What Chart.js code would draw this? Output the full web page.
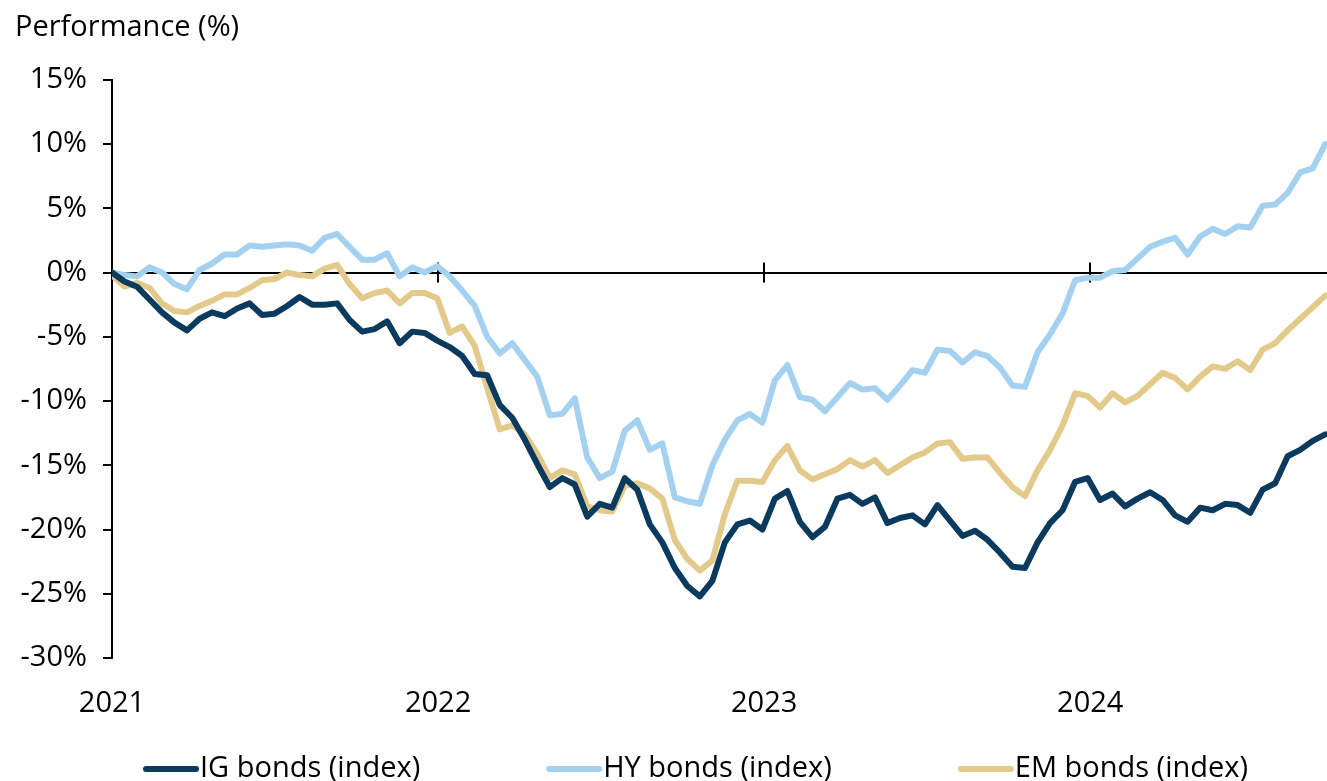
<!DOCTYPE html>
<html>
<head>
<meta charset="utf-8">
<title>Bond performance</title>
<script src="https://cdn.jsdelivr.net/npm/chart.js@4/dist/chart.umd.min.js"></script>
<style>
  html, body { margin: 0; padding: 0; background: #fff; overflow: hidden; }
  canvas { display: block; }
</style>
</head>
<body>
<canvas id="perf" width="1327" height="781"></canvas>
<script>
// cumulative performance since start of 2021, one reading every two weeks (%)
const stepDays = 14;
const igBonds = [
  0, -0.7, -1.1, -2.1, -3.1, -3.9, -4.5, -3.6, -3.1, -3.4,
  -2.8, -2.4, -3.3, -3.2, -2.6, -1.9, -2.5, -2.5, -2.4, -3.7,
  -4.6, -4.4, -3.8, -5.5, -4.6, -4.7, -5.3, -5.8, -6.5, -7.9,
  -8.0, -10.3, -11.3, -13.0, -14.9, -16.7, -16.0, -16.5, -19.0, -18.0,
  -18.3, -16.0, -16.9, -19.6, -21.0, -23.0, -24.4, -25.2, -24.0, -21.0,
  -19.6, -19.3, -20.0, -17.6, -17.0, -19.4, -20.6, -19.8, -17.6, -17.3,
  -18.0, -17.5, -19.5, -19.1, -18.9, -19.6, -18.1, -19.3, -20.5, -20.1,
  -20.8, -21.8, -22.9, -23.0, -21.0, -19.5, -18.5, -16.3, -16.0, -17.7,
  -17.2, -18.2, -17.6, -17.1, -17.7, -18.9, -19.4, -18.3, -18.5, -18.0,
  -18.1, -18.7, -16.9, -16.4, -14.3, -13.8, -13.1, -12.6
];
const hyBonds = [
  0, -0.2, -0.3, 0.4, 0, -0.9, -1.3, 0.2, 0.7, 1.4,
  1.4, 2.1, 2.0, 2.1, 2.2, 2.1, 1.7, 2.7, 3.0, 2.0,
  1.0, 1.0, 1.5, -0.3, 0.4, 0, 0.5, -0.3, -1.4, -2.6,
  -5.0, -6.3, -5.5, -6.8, -8.1, -11.1, -11.0, -9.8, -14.4, -16.0,
  -15.5, -12.3, -11.5, -13.8, -13.3, -17.5, -17.8, -18.0, -15.0, -13.0,
  -11.5, -11.0, -11.7, -8.4, -7.2, -9.7, -9.9, -10.8, -9.7, -8.6,
  -9.1, -9.0, -9.9, -8.8, -7.6, -7.8, -6.0, -6.1, -7.0, -6.2,
  -6.5, -7.4, -8.8, -8.9, -6.2, -4.8, -3.2, -0.6, -0.4, -0.4,
  0.1, 0.2, 1.1, 2.0, 2.4, 2.7, 1.4, 2.8, 3.4, 3.0,
  3.6, 3.5, 5.2, 5.3, 6.2, 7.8, 8.1, 10.0
];
const emBonds = [
  -0.2, -1.1, -0.8, -1.2, -2.4, -3.0, -3.1, -2.6, -2.2, -1.7,
  -1.7, -1.2, -0.6, -0.5, 0, -0.2, -0.3, 0.3, 0.6, -0.9,
  -2.0, -1.6, -1.4, -2.4, -1.6, -1.6, -2.0, -4.7, -4.2, -5.7,
  -9.0, -12.2, -11.9, -12.6, -14.1, -16.0, -15.4, -15.7, -18.2, -18.5,
  -18.6, -16.6, -16.4, -16.8, -17.6, -20.8, -22.3, -23.2, -22.4, -18.8,
  -16.2, -16.2, -16.3, -14.6, -13.5, -15.4, -16.1, -15.7, -15.3, -14.6,
  -15.1, -14.6, -15.6, -15.0, -14.4, -14.0, -13.3, -13.2, -14.5, -14.4,
  -14.4, -15.6, -16.7, -17.4, -15.4, -13.8, -11.9, -9.4, -9.6, -10.5,
  -9.4, -10.1, -9.6, -8.7, -7.8, -8.2, -9.1, -8.1, -7.3, -7.5,
  -6.9, -7.6, -6.0, -5.5, -4.5, -3.6, -2.7, -1.8
];

const yearLabels = ['2021', '2022', '2023', '2024'];
const yearStartDays = [0, 365, 730, 1095];
const lastDay = 1360;

const seriesNames = ['IG bonds (index)', 'HY bonds (index)', 'EM bonds (index)'];
const seriesColors = ['#0b3a5f', '#a5d1f0', '#e3ca8a'];

const FONT = '"Open Sans", "Noto Sans", sans-serif';
const FONT_SIZE = 29;

function toPoints(values) {
  return values.map((v, i) => ({ x: i * stepDays, y: v }));
}

// little year ticks sitting on the zero line
const zeroLineTicks = {
  id: 'zeroLineTicks',
  beforeDatasetsDraw(chart) {
    const { ctx, scales: { x, y } } = chart;
    const y0 = y.getPixelForValue(0);
    ctx.save();
    ctx.strokeStyle = '#000';
    ctx.lineWidth = 2;
    yearStartDays.slice(1).forEach(d => {
      const px = Math.round(x.getPixelForValue(d));
      ctx.beginPath();
      ctx.moveTo(px, y0 - 10);
      ctx.lineTo(px, y0 + 10);
      ctx.stroke();
    });
    ctx.restore();
  }
};

// legend row along the bottom edge
const bottomLegend = {
  id: 'bottomLegend',
  afterDraw(chart) {
    const { ctx, chartArea } = chart;
    const cy = 769;
    const gap = 126;
    let px = chartArea.left + 31;
    ctx.save();
    ctx.font = FONT_SIZE + 'px ' + FONT;
    ctx.textBaseline = 'middle';
    ctx.fillStyle = '#000';
    chart.data.datasets.forEach(ds => {
      ctx.strokeStyle = ds.borderColor;
      ctx.lineWidth = 6;
      ctx.lineCap = 'round';
      ctx.beginPath();
      ctx.moveTo(px + 3, cy);
      ctx.lineTo(px + 53, cy);
      ctx.stroke();
      ctx.fillText(ds.label, px + 57, cy);
      px += 57 + ctx.measureText(ds.label).width + gap;
    });
    ctx.restore();
  }
};

const datasets = [igBonds, hyBonds, emBonds].map((vals, i) => ({
  label: seriesNames[i],
  data: toPoints(vals),
  borderColor: seriesColors[i],
  borderWidth: 6,
  borderJoinStyle: 'round',
  borderCapStyle: 'round',
  pointRadius: 0,
  tension: 0,
  fill: false
}));

new Chart(document.getElementById('perf'), {
  type: 'line',
  data: { datasets },
  plugins: [zeroLineTicks, bottomLegend],
  options: {
    responsive: false,
    animation: false,
    devicePixelRatio: 1,
    layout: { padding: { left: 15, top: 0, right: 0, bottom: 0 } },
    plugins: {
      legend: { display: false },
      tooltip: { enabled: false },
      title: {
        display: true,
        text: 'Performance (%)',
        align: 'start',
        color: '#000',
        font: { family: FONT, size: FONT_SIZE, weight: 'normal', lineHeight: 1.2 },
        padding: { top: 10, bottom: 35 }
      }
    },
    scales: {
      x: {
        type: 'linear',
        min: 0,
        max: lastDay,
        afterBuildTicks: s => { s.ticks = yearStartDays.map(v => ({ value: v })); },
        afterFit: s => { s.height = 123; },
        grid: { display: false, drawTicks: false },
        border: { display: false },
        ticks: {
          color: '#000',
          padding: 28,
          maxRotation: 0,
          font: { family: FONT, size: FONT_SIZE },
          callback: v => yearLabels[yearStartDays.indexOf(v)]
        }
      },
      y: {
        min: -30,
        max: 15,
        afterFit: s => { s.width = 97; },
        ticks: {
          stepSize: 5,
          color: '#000',
          padding: 16,
          font: { family: FONT, size: FONT_SIZE },
          callback: v => v + '%'
        },
        grid: {
          color: c => (c.tick && c.tick.value === 0 ? '#000' : 'rgba(0,0,0,0)'),
          tickColor: '#000',
          tickLength: 9,
          lineWidth: 2
        },
        border: { display: true, color: '#000', width: 2 }
      }
    }
  }
});
</script>
</body>
</html>
